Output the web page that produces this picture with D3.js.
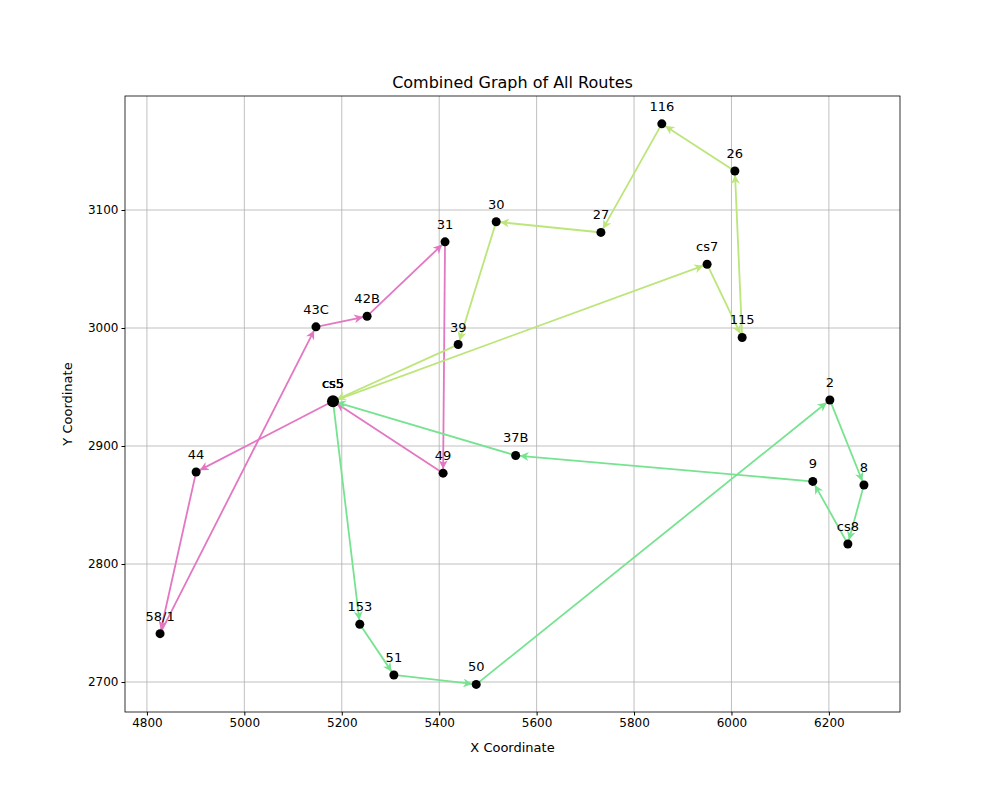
<!DOCTYPE html>
<html><head><meta charset="utf-8">
<script src="https://cdn.jsdelivr.net/npm/d3@7"></script>
<style>body{margin:0;background:#fff}text{font-family:"DejaVu Sans",sans-serif}</style>
</head><body><svg id="c" width="1000" height="800"></svg>
<script>
// node coordinates
var nodes = {
  "cs5":[5182,2938], "116":[5857,3173], "26":[6007,3133], "30":[5517,3090],
  "27":[5732,3081], "31":[5412,3073], "cs7":[5950,3054], "42B":[5252,3010],
  "43C":[5147,3001], "115":[6022,2992], "39":[5439,2986], "2":[6202,2939],
  "37B":[5557,2892], "49":[5408,2877], "44":[4901,2878], "9":[6167,2870],
  "8":[6272,2867], "cs8":[6239,2817], "153":[5237,2749], "58/1":[4827,2741],
  "51":[5307,2706], "50":[5476,2698]
};
var routePink = ["cs5","44","58/1","43C","42B","31","49","cs5"];
var routeLime = ["cs5","cs7","115","26","116","27","30","39","cs5"];
var routeGreen = ["cs5","153","51","50","2","8","cs8","9","37B","cs5"];
var routes = [[routePink,"#e377c2"],[routeLime,"#bce57a"],[routeGreen,"#77e391"]];
var xTicks = [4800,5000,5200,5400,5600,5800,6000,6200];
var yTicks = [2700,2800,2900,3000,3100];

var svg = d3.select("#c");
var L=125,R=900,T=96,B=712;
var x = d3.scaleLinear().domain([4755,6346]).range([L,R]);
var y = d3.scaleLinear().domain([2674.6,3196.6]).range([B,T]);

var g = svg.append("g");
xTicks.forEach(function(t){ g.append("line").attr("x1",x(t)).attr("x2",x(t)).attr("y1",T).attr("y2",B).attr("stroke","#b0b0b0").attr("stroke-width",0.8); });
yTicks.forEach(function(t){ g.append("line").attr("y1",y(t)).attr("y2",y(t)).attr("x1",L).attr("x2",R).attr("stroke","#b0b0b0").attr("stroke-width",0.8); });

var defs = svg.append("defs");
routes.forEach(function(r,i){
  defs.append("marker").attr("id","m"+i).attr("viewBox","0 0 10 10").attr("refX",10).attr("refY",5)
    .attr("markerWidth",9).attr("markerHeight",9).attr("markerUnits","userSpaceOnUse").attr("orient","auto")
    .append("path").attr("d","M0,0 L10,5 L0,10 L3,5 Z").attr("fill",r[1]);
});

routes.forEach(function(r,i){
  var seq=r[0];
  for(var k=0;k<seq.length-1;k++){
    var a=nodes[seq[k]], b=nodes[seq[k+1]];
    var x1=x(a[0]),y1=y(a[1]),x2=x(b[0]),y2=y(b[1]);
    var dx=x2-x1,dy=y2-y1,d=Math.sqrt(dx*dx+dy*dy),s=4;
    svg.append("line").attr("x1",x1+dx/d*s).attr("y1",y1+dy/d*s).attr("x2",x2-dx/d*s).attr("y2",y2-dy/d*s)
      .attr("stroke",r[1]).attr("stroke-width",1.8).attr("marker-end","url(#m"+i+")");
  }
});

Object.keys(nodes).forEach(function(n){
  var p=nodes[n], big=n==="cs5";
  svg.append("circle").attr("cx",x(p[0])).attr("cy",y(p[1])).attr("r",big?6:4.5).attr("fill","#000");
  for(var j=0;j<(big?3:1);j++)
    svg.append("text").attr("x",x(p[0])).attr("y",y(p[1])-13).attr("text-anchor","middle").attr("font-size",13).text(n);
});

svg.append("rect").attr("x",L).attr("y",T).attr("width",R-L).attr("height",B-T).attr("fill","none").attr("stroke","#000").attr("stroke-width",0.8);
var xa = svg.append("g").attr("transform","translate(0,"+B+")").call(d3.axisBottom(x).tickValues(xTicks).tickSize(3.5).tickFormat(d3.format("d")));
var ya = svg.append("g").attr("transform","translate("+L+",0)").call(d3.axisLeft(y).tickValues(yTicks).tickSize(3.5).tickFormat(d3.format("d")));
[xa,ya].forEach(function(a){ a.select(".domain").remove(); a.selectAll("text").attr("font-size",12).attr("fill","#000").style("font-family","DejaVu Sans"); a.selectAll("line").attr("stroke","#000"); });

svg.append("text").attr("x",(L+R)/2).attr("y",88).attr("text-anchor","middle").attr("font-size",16).text("Combined Graph of All Routes");
svg.append("text").attr("x",(L+R)/2).attr("y",752).attr("text-anchor","middle").attr("font-size",13).text("X Coordinate");
svg.append("text").attr("transform","translate(72,"+(T+B)/2+") rotate(-90)").attr("text-anchor","middle").attr("font-size",13).text("Y Coordinate");
</script></body></html>
